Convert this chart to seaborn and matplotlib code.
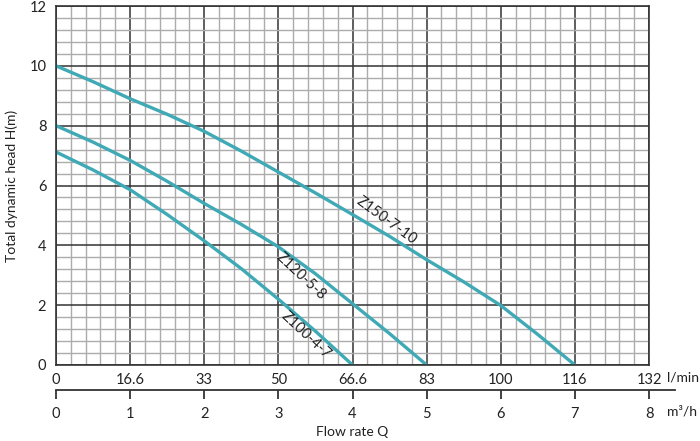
import numpy as np
import pandas as pd
import matplotlib
matplotlib.use("Agg")
import matplotlib.pyplot as plt
import seaborn as sns

# flow in m3/h, head in m
q_z150 = [0, 0.5, 1, 1.5, 2, 2.5, 3, 3.5, 4, 4.5, 5, 5.5, 6, 6.5, 7]
h_z150 = [10.0, 9.47, 8.9, 8.38, 7.81, 7.15, 6.45, 5.75, 5.03, 4.3, 3.52, 2.78, 1.99, 1.02, 0.0]
q_z120 = [0, 0.5, 1, 1.5, 2, 2.5, 3, 3.5, 4, 4.5, 5]
h_z120 = [8.0, 7.45, 6.84, 6.14, 5.4, 4.7, 3.95, 3.05, 2.05, 1.05, 0.0]
q_z100 = [0, 0.5, 1, 1.5, 2, 2.5, 3, 3.5, 4]
h_z100 = [7.12, 6.52, 5.86, 5.03, 4.15, 3.22, 2.2, 1.13, 0.0]

models = ["Z150-7-10", "Z120-5-8", "Z100-4-7"]
lmin_labels = ["0", "16.6", "33", "50", "66.6", "83", "100", "116", "132"]
m3h_ticks = [0, 1, 2, 3, 4, 5, 6, 7, 8]
head_ticks = [0, 2, 4, 6, 8, 10, 12]

# label position (Q, H) and angle for each curve
label_pos = {"Z150-7-10": (4.46, 4.83, -36),
             "Z120-5-8": (3.30, 2.96, -43),
             "Z100-4-7": (3.37, 0.99, -43)}

frames = []
for name, q, h in [(models[0], q_z150, h_z150), (models[1], q_z120, h_z120), (models[2], q_z100, h_z100)]:
    frames.append(pd.DataFrame({"q": q, "h": h, "model": name}))
df = pd.concat(frames, ignore_index=True)

sns.set_style("white")
plt.rcParams["font.family"] = ["Lato", "DejaVu Sans"]

line_col = "#3fa9b6"
txt_col = "#222222"

fig = plt.figure(figsize=(7, 4.41), dpi=100)
left, right = 56 / 700, 649 / 700
top, bottom = 1 - 6 / 441, 1 - 365 / 441
ax = fig.add_axes([left, bottom, right - left, top - bottom])

ax.set_xlim(0, 8)
ax.set_ylim(0, 12)
ax.set_xticks(np.arange(0, 8.01, 0.2), minor=True)
ax.set_yticks(np.arange(0, 12.01, 0.4), minor=True)
ax.set_xticks(m3h_ticks)
ax.set_xticklabels(lmin_labels)
ax.set_yticks(head_ticks)
ax.grid(which="minor", color="#acacac", lw=1.0)
ax.grid(which="major", color="#333333", lw=1.1)
ax.set_axisbelow(True)
ax.tick_params(which="both", length=0)
ax.tick_params(axis="x", pad=6, labelsize=10.5, labelcolor=txt_col)
ax.tick_params(axis="y", pad=7, labelsize=10.5, labelcolor=txt_col)
for s in ax.spines.values():
    s.set_color("#333333")
    s.set_linewidth(1.2)

sns.lineplot(data=df, x="q", y="h", hue="model", palette=[line_col] * 3,
             estimator=None, sort=False, legend=False, lw=2.4, ax=ax)
ax.set_xlabel("")
ax.set_ylabel("Total dynamic head H(m)", fontsize=10, color=txt_col, labelpad=8)

for name in models:
    x, y, ang = label_pos[name]
    ax.text(x, y, name, rotation=ang, ha="center", va="center",
            fontsize=10.5, color=txt_col, rotation_mode="anchor")

# second flow scale in m3/h, its line drawn as the bottom spine at y=390 px
ext = 675 / 700
ax2 = fig.add_axes([left, 1 - 390 / 441, ext - left, 0.02])
ax2.set_xlim(0, 8 * (675 - 56) / (649 - 56))
ax2.set_ylim(0, 1)
ax2.set_yticks([])
ax2.set_xticks(m3h_ticks)
ax2.set_xticklabels([str(t) for t in m3h_ticks])
for k in ["top", "left", "right"]:
    ax2.spines[k].set_visible(False)
ax2.spines["bottom"].set_visible(True)
ax2.spines["bottom"].set_color("#333333")
ax2.spines["bottom"].set_linewidth(1.3)
ax2.tick_params(axis="x", bottom=True, direction="out", length=6.5, width=1.3, color="#333333",
                pad=5.5, labelsize=10.5, labelcolor=txt_col)
ax2.patch.set_alpha(0)

fig.text(667 / 700, 1 - 378 / 441, "l/min", fontsize=10, color=txt_col, va="center", ha="left")
fig.text(667 / 700, 1 - 412 / 441, "m³/h", fontsize=10, color=txt_col, va="center", ha="left")
fig.text(352 / 700, 1 - 432 / 441, "Flow rate Q", fontsize=10, color=txt_col, va="center", ha="center")

fig.savefig("out.png", dpi=100)
